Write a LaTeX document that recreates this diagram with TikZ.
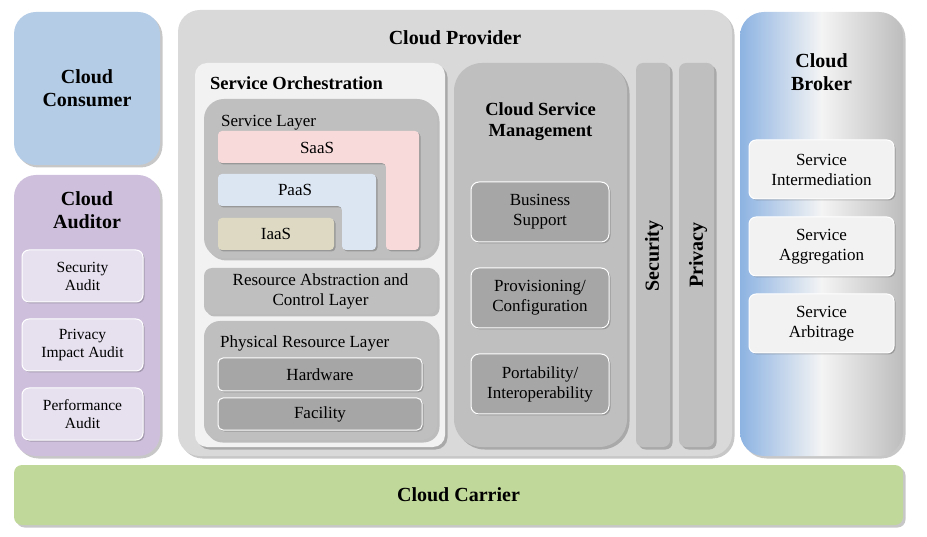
\documentclass[tikz,border=0pt]{standalone}
\usepackage{fontspec}
\setmainfont{Liberation Serif}
\usetikzlibrary{shadows}
\definecolor{consumer}{HTML}{B4CCE6}
\definecolor{auditor}{HTML}{CEC0DC}
\definecolor{auditbox}{HTML}{E6E0EF}
\definecolor{carrier}{HTML}{C0D899}
\definecolor{provider}{HTML}{D9D9D9}
\definecolor{orch}{HTML}{F2F2F2}
\definecolor{layer}{HTML}{BFBFBF}
\definecolor{darkbox}{HTML}{A6A6A6}
\definecolor{saas}{HTML}{F9DADB}
\definecolor{paas}{HTML}{DCE6F3}
\definecolor{iaas}{HTML}{DDD9C3}
\definecolor{brokerblue}{HTML}{8DB3E2}
\definecolor{brokermid}{HTML}{F4F4F4}
\definecolor{brokergray}{HTML}{BDBDBD}
\tikzset{
  shad/.style={drop shadow={shadow xshift=2.5pt,shadow yshift=-2.5pt,opacity=0.22,fill=black}},
  smallshad/.style={drop shadow={shadow xshift=1.5pt,shadow yshift=-1.5pt,opacity=0.2,fill=black}},
  container/.style={shad,draw=none,inner sep=0pt,outer sep=0pt},
  innerbox/.style={smallshad,draw=white,line width=1pt,inner sep=0pt,outer sep=0pt,align=center,font=\bodyfont},
  titletext/.style={align=center,font=\titlefont,inner sep=0pt},
  bodytext/.style={align=center,font=\bodyfont,inner sep=0pt},
}
\newcommand\titlefont{\fontsize{20}{23}\selectfont\bfseries}
\newcommand\bodyfont{\fontsize{17}{20}\selectfont}
\newcommand\subtitlefont{\fontsize{18.5}{21}\selectfont\bfseries}
\begin{document}
\begin{tikzpicture}[x=1pt,y=-1pt]
\useasboundingbox (0,0) rectangle (927,537);
% Cloud Consumer
\node[container,fill=consumer,rounded corners=22pt,minimum width=146pt,minimum height=153pt,titletext] (consumer) at (87,88.5) {Cloud\\Consumer};
% Cloud Auditor
\node[container,fill=auditor,rounded corners=22pt,minimum width=146pt,minimum height=281pt] (auditor) at (87,315.5) {};
\node[titletext] (auditortitle) at (87,210) {Cloud\\Auditor};
\node[innerbox,fill=auditbox,rounded corners=7pt,minimum width=121pt,minimum height=52pt,font=\fontsize{15.5}{18}\selectfont] (secaudit) at (82.5,276) {Security\\Audit};
\node[innerbox,fill=auditbox,rounded corners=7pt,minimum width=121pt,minimum height=52pt,font=\fontsize{15.5}{18}\selectfont] (privaudit) at (82.5,345) {Privacy\\Impact Audit};
\node[innerbox,fill=auditbox,rounded corners=7pt,minimum width=121pt,minimum height=52pt,font=\fontsize{15.5}{18}\selectfont] (perfaudit) at (82.5,414) {Performance\\Audit};
% Cloud Provider
\node[container,fill=provider,rounded corners=22pt,minimum width=554pt,minimum height=446pt] (provider) at (455,233) {};
\node[titletext] (providertitle) at (455,38) {Cloud Provider};
% Service Orchestration
\node[container,fill=orch,rounded corners=12pt,minimum width=250pt,minimum height=384pt] (orch) at (320,255) {};
\node[anchor=west,inner sep=0pt,font=\subtitlefont] (orchtitle) at (210,83) {Service Orchestration};
% Service layer
\node[container,fill=layer,rounded corners=20pt,minimum width=233pt,minimum height=159pt] (servicelayer) at (320.5,178.5) {};
\node[anchor=west,inner sep=0pt,font=\bodyfont] (sltitle) at (221,123) {Service Layer};
\path[fill=saas,smallshad,rounded corners=4pt] (218,131) -- (419,131) -- (419,250) -- (386,250) -- (386,163) -- (218,163) -- cycle;
\node[bodytext] (saas) at (317,148) {SaaS};
\path[fill=paas,smallshad,rounded corners=4pt] (218,174) -- (376,174) -- (376,250) -- (342,250) -- (342,206) -- (218,206) -- cycle;
\node[bodytext] (paas) at (295,190) {PaaS};
\node[smallshad,fill=iaas,rounded corners=4pt,minimum width=116pt,minimum height=32pt,inner sep=0pt,font=\bodyfont] (iaas) at (276,234) {IaaS};
% Resource abstraction
\node[container,fill=layer,rounded corners=8pt,minimum width=233pt,minimum height=46pt,bodytext] (rac) at (320.5,291) {Resource Abstraction and\\Control Layer};
% Physical resource layer
\node[container,fill=layer,rounded corners=16pt,minimum width=233pt,minimum height=119pt] (phys) at (320.5,380.5) {};
\node[anchor=west,inner sep=0pt,font=\bodyfont] (physt) at (220,343) {Physical Resource Layer};
\node[innerbox,fill=darkbox,rounded corners=5pt,minimum width=204pt,minimum height=33pt] (hw) at (320,374.5) {Hardware};
\node[innerbox,fill=darkbox,rounded corners=5pt,minimum width=204pt,minimum height=32pt] (fac) at (320,414) {Facility};
% Cloud service management
\node[container,fill=layer,rounded corners=28pt,minimum width=173pt,minimum height=384pt] (csm) at (540.5,255) {};
\node[align=center,inner sep=0pt,font=\subtitlefont] (csmtitle) at (540.5,122) {Cloud Service\\Management};
\node[innerbox,fill=darkbox,rounded corners=8pt,minimum width=138pt,minimum height=60pt] (bs) at (540,212) {Business\\Support};
\node[innerbox,fill=darkbox,rounded corners=8pt,minimum width=138pt,minimum height=60pt] (prov) at (540,298) {Provisioning/\\Configuration};
\node[innerbox,fill=darkbox,rounded corners=8pt,minimum width=138pt,minimum height=60pt] (port) at (540,384) {Portability/\\Interoperability};
% Security and privacy
\node[container,fill=layer,rounded corners=7pt,minimum width=34pt,minimum height=384pt] (sec) at (653,255) {};
\node[rotate=90,inner sep=0pt,font=\titlefont] (sectext) at (654,256) {Security};
\node[container,fill=layer,rounded corners=7pt,minimum width=35pt,minimum height=384pt] (priv) at (696.5,255) {};
\node[rotate=90,inner sep=0pt,font=\titlefont] (privtext) at (698,255) {Privacy};
% Cloud Broker
\node[container,left color=brokerblue,right color=brokergray,middle color=brokermid,rounded corners=24pt,minimum width=163pt,minimum height=444pt] (broker) at (821.5,234) {};
\node[titletext] (brokertitle) at (821.5,72) {Cloud\\Broker};
\node[innerbox,fill=orch,rounded corners=7pt,minimum width=145pt,minimum height=59pt] (interm) at (821.5,169.5) {Service\\Intermediation};
\node[innerbox,fill=orch,rounded corners=7pt,minimum width=145pt,minimum height=59pt] (aggr) at (821.5,246.5) {Service\\Aggregation};
\node[innerbox,fill=orch,rounded corners=7pt,minimum width=145pt,minimum height=59pt] (arb) at (821.5,323.5) {Service\\Arbitrage};
% Cloud Carrier
\node[container,fill=carrier,rounded corners=8pt,minimum width=889pt,minimum height=60pt,titletext] (carrier) at (458.5,495) {Cloud Carrier};
\end{tikzpicture}
\end{document}
